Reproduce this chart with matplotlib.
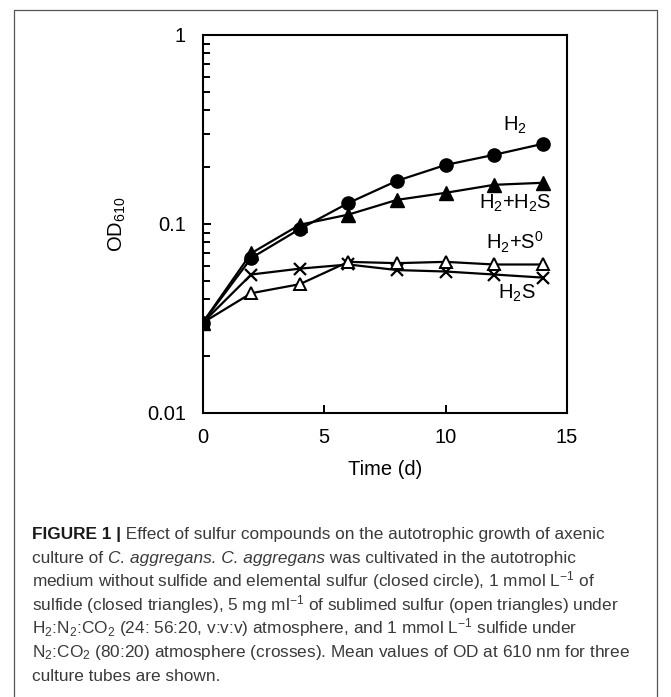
import numpy as np
import matplotlib
matplotlib.use('Agg')
import matplotlib.pyplot as plt
from matplotlib.ticker import LogLocator, NullFormatter, FixedLocator

# OD610 readings for each culture condition
days = [0, 2, 4, 6, 8, 10, 12, 14]
od_h2 = [0.030, 0.066, 0.094, 0.129, 0.169, 0.205, 0.232, 0.265]
od_h2_h2s = [0.030, 0.070, 0.099, 0.112, 0.134, 0.146, 0.161, 0.165]
od_h2_s0 = [0.030, 0.043, 0.048, 0.063, 0.062, 0.063, 0.061, 0.061]
od_h2s = [0.030, 0.054, 0.058, 0.061, 0.057, 0.056, 0.054, 0.052]
xticks = [0, 5, 10, 15]
yticks = [0.01, 0.1, 1]
ytick_labels = ['0.01', '0.1', '1']

plt.rcParams['font.family'] = ['Liberation Sans', 'DejaVu Sans']
plt.rcParams['mathtext.fontset'] = 'custom'
plt.rcParams['mathtext.rm'] = 'Liberation Sans'
plt.rcParams['mathtext.it'] = 'Liberation Sans:italic'
plt.rcParams['mathtext.bf'] = 'Liberation Sans:bold'

fig = plt.figure(figsize=[6.71, 6.97], dpi=100)
ax = fig.add_axes([0.302, 0.4075, 0.543, 0.5425])

lw = 1.6
ax.plot(days, od_h2s, 'k-', marker='x', ms=9, mew=1.6, lw=lw)
ax.plot(days, od_h2_s0, 'k-', marker='^', ms=9, mfc='white', mew=1.4, lw=lw)
ax.plot(days, od_h2_h2s, 'k-', marker='^', ms=9.5, lw=lw)
ax.plot(days, od_h2, 'k-', marker='o', ms=9.5, lw=lw)

ax.set_yscale('log')
ax.set_xlim(0, 15)
ax.set_ylim(0.01, 1)
ax.xaxis.set_major_locator(FixedLocator(xticks))
ax.set_yticks(yticks)
ax.set_yticklabels(ytick_labels)
ax.yaxis.set_minor_locator(LogLocator(base=10, subs=np.arange(2, 10)))
ax.yaxis.set_minor_formatter(NullFormatter())
ax.tick_params(which='both', direction='in', width=1.4, labelsize=14.5, colors='k')
ax.tick_params(which='major', length=6)
ax.tick_params(which='minor', length=5)
ax.tick_params(axis='y', pad=12)
ax.tick_params(axis='x', pad=11)
for s in ax.spines.values():
    s.set_linewidth(1.5)

ax.set_xlabel('Time (d)', fontsize=14.5, labelpad=9)
ax.set_ylabel('OD$_{610}$', fontsize=14.5, labelpad=14)

ax.text(12.86, 0.334, 'H$_2$', fontsize=14.5, ha='center', va='center')
ax.text(12.86, 0.129, 'H$_2$+H$_2$S', fontsize=14.5, ha='center', va='center')
ax.text(12.86, 0.0803, 'H$_2$+S$^0$', fontsize=14.5, ha='center', va='center')
ax.text(12.94, 0.0431, 'H$_2$S', fontsize=14.5, ha='center', va='center')

# caption block, each line is a list of (text, style) pieces
caption = [
    [('FIGURE 1 |', 'bold'), (' Effect of sulfur compounds on the autotrophic growth of axenic', 'normal')],
    [('culture of ', 'normal'), ('C. aggregans. C. aggregans', 'italic'),
     (' was cultivated in the autotrophic', 'normal')],
    [('medium without sulfide and elemental sulfur (closed circle), 1 mmol L$^{-1}$ of', 'normal')],
    [('sulfide (closed triangles), 5 mg ml$^{-1}$ of sublimed sulfur (open triangles) under', 'normal')],
    [('H$_2$:N$_2$:CO$_2$ (24: 56:20, v:v:v) atmosphere, and 1 mmol L$^{-1}$ sulfide under', 'normal')],
    [('N$_2$:CO$_2$ (80:20) atmosphere (crosses). Mean values of OD at 610 nm for three', 'normal')],
    [('culture tubes are shown.', 'normal')],
]
cap_size = 12.4
renderer = fig.canvas.get_renderer()
y0 = 539
for i, pieces in enumerate(caption):
    xpix = 32
    ypix = 697 - (y0 + i * 23.7)
    for txt, style in pieces:
        t = fig.text(xpix / 671, ypix / 697, txt, fontsize=cap_size,
                     color='#1a1a1a' if style == 'bold' else '#3a3a3a',
                     fontweight='bold' if style == 'bold' else 'normal',
                     fontstyle='italic' if style == 'italic' else 'normal',
                     ha='left', va='baseline')
        bb = t.get_window_extent(renderer)
        xpix += bb.width

# page frame
fig.add_artist(plt.Line2D([14 / 671, 14 / 671, 657 / 671, 657 / 671],
                          [0, 1 - 10 / 697, 1 - 10 / 697, 0],
                          transform=fig.transFigure, color='#555555', lw=0.9))

plt.savefig('out.png', dpi=100)
